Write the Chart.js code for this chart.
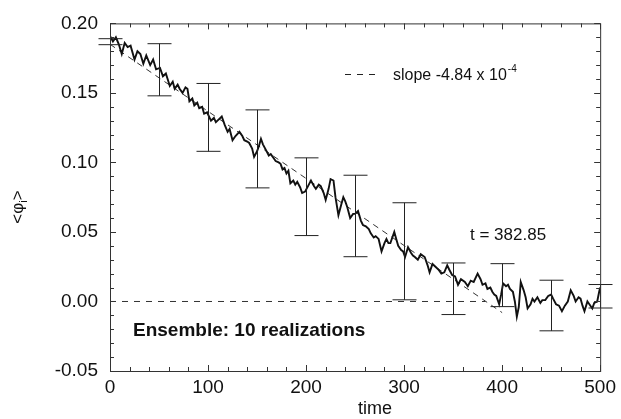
<!DOCTYPE html>
<html>
<head>
<meta charset="utf-8">
<script src="https://cdn.jsdelivr.net/npm/chart.js@4/dist/chart.umd.min.js"></script>
<style>
  body { margin: 0; background: #fff; }
  canvas { display: block; }
</style>
</head>
<body>
<canvas id="myChart" width="621" height="419"></canvas>
<script>
// Serie promedio del ensemble
var tiempo = [0,3,6,9,12,15,18,21,25,28,31,34,37,41,44,47,51,54,57,61,64,66,69,71,74,77,79,81,84,86,89,91,94,96,99,
  103,106,108,111,114,117,120,122,125,128,132,135,137,140,142,145,147,150,152,154,156,159,162,164,167,169,172,174,176,178,
  180,182,184,187,189,191,194,196,199,202,205,208,210,213,215,218,220,223,225,228,230,233,236,238,240,242,245,248,250,
  253,256,258,261,264,266,269,271,274,277,280,282,284,286,290,292,294,297,299,301,304,307,309,311,314,317,321,324,326,
  329,332,335,338,341,344,346,349,352,355,358,362,365,368,371,375,378,380,383,385,388,390,392,394,397,399,401,404,406,
  408,411,413,415,417,419,422,424,426,429,431,433,436,439,441,444,447,450,452,455,458,461,464,467,470,473,475,478,480,
  482,484,487,489,492,494,497,499,500];
var phi = [0.191,0.187,0.190,0.185,0.178,0.186,0.183,0.184,0.174,0.180,0.178,0.171,0.177,0.170,0.174,0.167,0.168,0.162,0.164,0.155,0.158,0.153,0.156,0.153,0.150,0.154,0.153,0.144,0.146,0.141,0.143,0.139,0.140,0.135,0.136,
  0.130,0.132,0.129,0.131,0.133,0.127,0.122,0.124,0.116,0.119,0.122,0.119,0.116,0.115,0.114,0.110,0.104,0.108,0.112,0.117,0.113,0.109,0.105,0.106,0.103,0.101,0.100,0.099,0.095,0.096,
  0.092,0.094,0.085,0.087,0.084,0.086,0.082,0.078,0.079,0.083,0.087,0.083,0.081,0.084,0.083,0.078,0.073,0.081,0.088,0.087,0.075,0.062,0.070,0.075,0.072,0.068,0.060,0.063,0.063,
  0.065,0.058,0.055,0.054,0.052,0.049,0.046,0.047,0.045,0.036,0.042,0.045,0.042,0.042,0.050,0.045,0.040,0.037,0.036,0.032,0.039,0.035,0.033,0.032,0.030,0.034,0.032,0.026,0.021,
  0.027,0.025,0.023,0.020,0.021,0.026,0.023,0.019,0.018,0.012,0.016,0.014,0.011,0.015,0.014,0.020,0.016,0.012,0.013,0.009,0.010,0.007,0.005,0.004,-0.002,0.005,0.013,0.011,0.012,
  0.009,0.007,0.000,-0.011,-0.004,0.014,0.008,0.003,-0.005,-0.002,0.002,0.000,0.003,-0.001,0.001,0.001,0.004,0.005,0.002,-0.002,-0.003,-0.007,-0.003,0.000,0.008,0.004,0.000,0.003,0.002,
  -0.003,-0.007,0.000,-0.002,-0.005,-0.001,0.000,0.007,0.010];

// Recta de ajuste y linea de cero
var ajusteT = [0, 400];
var ajusteY = [0.185, -0.008];
var ceroT = [0, 383];
var ceroY = [0, 0];

// Barras de error
var barraT = [0, 50, 100, 150, 200, 250, 300, 350, 400, 450, 500];
var barraAlta = [0.189, 0.1854, 0.1568, 0.1378, 0.1033, 0.0908, 0.071, 0.0277, 0.0272, 0.0153, 0.0122];
var barraBaja = [0.1847, 0.1479, 0.108, 0.0817, 0.0474, 0.0322, 0.0012, -0.0094, -0.0037, -0.0211, -0.0047];

var fuente = '"Liberation Sans", Arial, Helvetica, sans-serif';

function puntos(xs, ys) {
    return xs.map(function (x, i) { return {x: x, y: ys[i]}; });
}

// Marco, marcas hacia adentro, barras de error y textos
var extras = {
    id: 'extras',
    afterDatasetsDraw: function (chart) {
        var ctx = chart.ctx, a = chart.chartArea;
        var sx = chart.scales.x, sy = chart.scales.y;
        ctx.save();
        // barras de error
        ctx.strokeStyle = '#222';
        ctx.lineWidth = 1;
        for (var i = 0; i < barraT.length; i++) {
            var px = Math.round(sx.getPixelForValue(barraT[i])) + 0.5;
            var ph = sy.getPixelForValue(barraAlta[i]);
            var pl = sy.getPixelForValue(barraBaja[i]);
            ctx.beginPath();
            ctx.moveTo(px, ph); ctx.lineTo(px, pl);
            ctx.moveTo(px - 12, ph); ctx.lineTo(px + 12, ph);
            ctx.moveTo(px - 12, pl); ctx.lineTo(px + 12, pl);
            ctx.stroke();
        }
        // marco
        ctx.strokeStyle = '#333';
        ctx.strokeRect(a.left + 0.5, a.top + 0.5, a.right - a.left, a.bottom - a.top);
        ctx.beginPath();
        for (var t = 0; t <= 500; t += 20) {
            var x = Math.round(sx.getPixelForValue(t)) + 0.5;
            var l = (t % 100 === 0) ? 6 : 4;
            ctx.moveTo(x, a.bottom); ctx.lineTo(x, a.bottom - l);
            ctx.moveTo(x, a.top); ctx.lineTo(x, a.top + l);
        }
        for (var k = -5; k <= 20; k++) {
            var y = Math.round(sy.getPixelForValue(k / 100)) + 0.5;
            var ly = (k % 5 === 0) ? 6 : 4;
            ctx.moveTo(a.left, y); ctx.lineTo(a.left + ly, y);
            ctx.moveTo(a.right, y); ctx.lineTo(a.right - ly, y);
        }
        ctx.stroke();

        // leyenda de la pendiente
        ctx.strokeStyle = '#222';
        ctx.setLineDash([6, 6]);
        ctx.beginPath();
        ctx.moveTo(345, 74.5); ctx.lineTo(380, 74.5);
        ctx.stroke();
        ctx.setLineDash([]);
        ctx.fillStyle = '#111';
        ctx.textBaseline = 'alphabetic';
        ctx.textAlign = 'left';
        ctx.font = '16px ' + fuente;
        var txt = 'slope -4.84 x 10';
        ctx.fillText(txt, 393, 80);
        var w = ctx.measureText(txt).width;
        ctx.font = '10px ' + fuente;
        ctx.fillText('-4', 393 + w + 1, 72);

        ctx.font = '17px ' + fuente;
        ctx.fillText('t = 382.85', 470, 240);

        ctx.font = 'bold 19px ' + fuente;
        ctx.fillText('Ensemble: 10 realizations', 133, 336);

        // titulos de ejes
        ctx.font = '18px ' + fuente;
        ctx.textAlign = 'center';
        ctx.fillText('time', 375, 414);

        ctx.translate(23, 207);
        ctx.rotate(-Math.PI / 2);
        ctx.textAlign = 'left';
        var p1 = '<\u03c6', p3 = '>';
        ctx.font = '17px ' + fuente;
        var w1 = ctx.measureText(p1).width;
        var w3 = ctx.measureText(p3).width;
        ctx.font = '11px ' + fuente;
        var w2 = ctx.measureText('i').width;
        var x0 = -(w1 + w2 + w3) / 2;
        ctx.font = '17px ' + fuente;
        ctx.fillText(p1, x0, 0);
        ctx.font = '11px ' + fuente;
        ctx.fillText('i', x0 + w1, 4);
        ctx.font = '17px ' + fuente;
        ctx.fillText(p3, x0 + w1 + w2, 0);
        ctx.restore();
    }
};

var ctx = document.getElementById('myChart').getContext('2d');
var myChart = new Chart(ctx, {
    type: 'line',
    data: {
        datasets: [{
            data: puntos(tiempo, phi),
            borderColor: '#111',
            borderWidth: 1.9,
            pointRadius: 0,
            tension: 0
        }, {
            data: puntos(ajusteT, ajusteY),
            borderColor: '#333',
            borderWidth: 1,
            borderDash: [6, 5],
            pointRadius: 0
        }, {
            data: puntos(ceroT, ceroY),
            borderColor: '#333',
            borderWidth: 1,
            borderDash: [6, 6],
            pointRadius: 0
        }]
    },
    options: {
        responsive: false,
        animation: false,
        devicePixelRatio: 1,
        layout: { padding: { top: 16, right: 18, left: 0, bottom: 0 } },
        plugins: { legend: { display: false }, tooltip: { enabled: false } },
        scales: {
            x: {
                type: 'linear',
                min: 0,
                max: 500,
                grid: { display: false, drawTicks: false },
                border: { display: false },
                ticks: { stepSize: 100, padding: 5, maxRotation: 0, color: '#111', font: { family: fuente, size: 19 } },
                afterFit: function (s) { s.height = 48; }
            },
            y: {
                min: -0.05,
                max: 0.20,
                grid: { display: false, drawTicks: false },
                border: { display: false },
                ticks: {
                    stepSize: 0.05,
                    padding: 12,
                    color: '#111',
                    font: { family: fuente, size: 19 },
                    callback: function (v) { return v.toFixed(2); }
                },
                afterFit: function (s) { s.width = 110; }
            }
        }
    },
    plugins: [extras]
});
</script>
</body>
</html>
